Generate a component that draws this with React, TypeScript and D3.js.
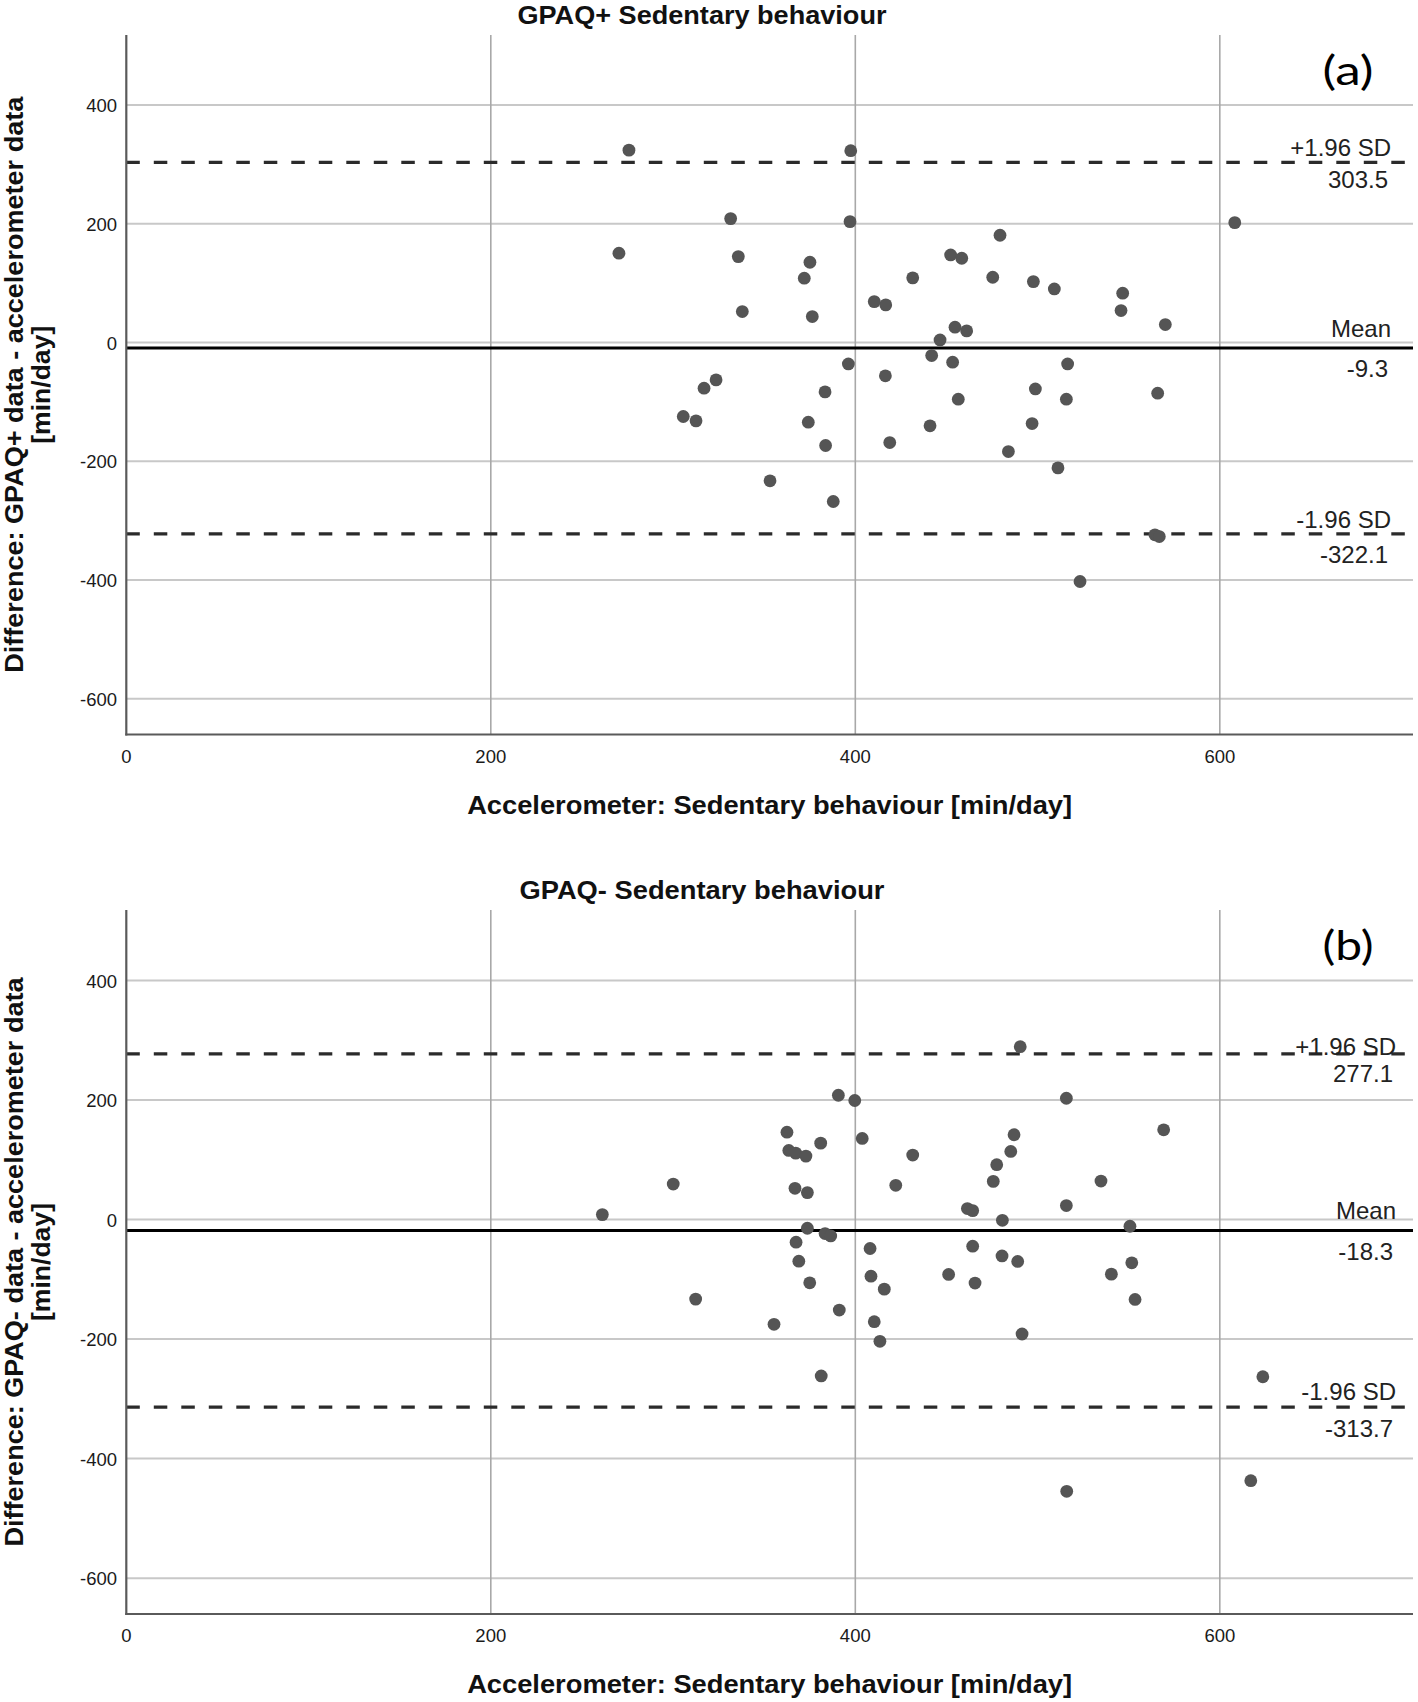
import React from 'react';
import * as d3 from 'd3';

// ---------- data ----------
const xTicks = [0, 200, 400, 600];
const yTicks = [-600, -400, -200, 0, 200, 400];
const xGridTicks = [200, 400, 600];
const xDomain = [0, 706];
const yDomain = [-660, 518];

const panelTitles = ['GPAQ+ Sedentary behaviour', 'GPAQ- Sedentary behaviour'];
const yTitlesLine1 = [
  'Difference: GPAQ+ data - accelerometer data',
  'Difference: GPAQ- data - accelerometer data',
];
const yTitleLine2 = '[min/day]';
const xTitle = 'Accelerometer: Sedentary behaviour [min/day]';
const panelLetters = ['(a)', '(b)'];
const statNames = ['+1.96 SD', 'Mean', '-1.96 SD'];

// Panel (a): accelerometer sedentary behaviour vs GPAQ+ difference
const aAccel = [275.8, 397.5, 331.6, 397.1, 270.3, 335.8, 375.1, 372.0, 338.0, 376.4,
  452.3, 458.4, 431.5, 410.4, 416.7, 454.7, 461.1, 446.5, 441.9, 453.4,
  396.2, 416.5, 323.6, 317.0, 383.4, 456.5, 305.6, 312.6, 374.2, 441.0,
  418.9, 383.7, 353.2, 387.9, 479.4, 475.4, 497.7, 509.2, 546.7, 545.8,
  570.1, 608.2, 516.5, 498.8, 515.8, 565.9, 497.0, 484.0, 511.2, 564.4,
  566.8, 523.3];
const aDiff = [324.1, 323.2, 208.8, 203.7, 150.5, 144.8, 135.3, 108.4, 52.2, 43.8,
  147.6, 142.0, 109.0, 69.0, 63.5, 26.0, 19.7, 4.5, -21.9, -33.0,
  -35.9, -56.0, -62.8, -76.8, -83.0, -95.3, -124.5, -131.8, -134.1, -140.2,
  -168.3, -173.3, -232.8, -267.6, 180.8, 110.0, 102.7, 90.4, 83.2, 53.9,
  30.3, 202.0, -35.9, -78.0, -95.3, -85.2, -136.4, -183.5, -211.0, -323.7,
  -326.6, -402.3];
const aStats = [303.5, -9.3, -322.1];

// Panel (b): accelerometer sedentary behaviour vs GPAQ- difference
const bAccel = [390.7, 399.7, 362.5, 403.8, 381.0, 363.5, 367.3, 372.9, 431.5, 300.1,
  422.2, 366.9, 373.7, 261.2, 373.7, 383.4, 386.5, 367.5, 408.1, 369.0,
  451.2, 408.6, 375.0, 415.9, 312.4, 391.2, 355.4, 410.4, 413.5, 381.3,
  490.5, 515.8, 569.2, 487.1, 485.3, 477.6, 475.7, 534.8, 515.8, 461.5,
  464.4, 480.7, 550.7, 464.4, 480.5, 489.1, 551.7, 540.5, 465.7, 553.5,
  491.5, 617.0, 516.0, 623.6];
const bDiff = [208.0, 199.2, 146.2, 135.7, 127.9, 115.7, 111.2, 106.2, 107.9, 59.4,
  57.3, 52.3, 45.1, 8.3, -14.5, -23.4, -27.4, -37.9, -48.4, -69.6,
  -91.8, -94.7, -105.8, -116.4, -133.1, -151.4, -175.3, -170.9, -203.7, -261.6,
  289.3, 203.0, 150.2, 141.9, 114.0, 91.8, 63.9, 64.4, 23.4, 18.4,
  15.0, -1.2, -11.2, -44.6, -60.8, -70.1, -72.4, -91.3, -106.3, -133.6,
  -191.5, -436.9, -454.7, -263.0];
const bStats = [277.1, -18.3, -313.7];

// ---------- layout ----------
const W = 1418;
const H = 1702;
const LEFT = 126.3;
const RIGHT = 1413;
const FONT = '"Liberation Sans", Arial, sans-serif';

const layouts = [
  { top: 35, bottom: 734.5, titleLen: 369, y1Len: 576, labelX: 1391,
    labelDy: [[-6, 26], [-11, 29], [-6, 29]] },
  { top: 910, bottom: 1614, titleLen: 365, y1Len: 569, labelX: 1396,
    labelDy: [[1, 28], [-12, 29.5], [-7, 30]] },
];

function Panel({ idx, accel, diff, stats }) {
  const L = layouts[idx];
  const x = d3.scaleLinear().domain(xDomain).range([LEFT, RIGHT]);
  const y = d3.scaleLinear().domain(yDomain).range([L.bottom, L.top]);
  const cy = (L.top + L.bottom) / 2;
  const points = d3.zip(accel, diff);

  return (
    <g>
      {/* horizontal gridlines */}
      {yTicks.map((t) => (
        <line key={'hg' + t} x1={x(0)} x2={x(xDomain[1])} y1={y(t)} y2={y(t)}
          stroke="#c8c8c8" strokeWidth={2} />
      ))}
      {/* vertical gridlines */}
      {xGridTicks.map((t) => (
        <line key={'vg' + t} x1={x(t)} x2={x(t)} y1={L.top} y2={L.bottom}
          stroke="#a8a8a8" strokeWidth={1.6} />
      ))}
      {/* limits of agreement */}
      {[stats[0], stats[2]].map((v, i) => (
        <line key={'sd' + i} x1={x(0)} x2={x(xDomain[1])} y1={y(v)} y2={y(v)}
          stroke="#2b2b2b" strokeWidth={3.2} strokeDasharray="13.5 14" />
      ))}
      {/* mean */}
      <line x1={x(0)} x2={x(xDomain[1])} y1={y(stats[1])} y2={y(stats[1])}
        stroke="#000" strokeWidth={3} />
      {/* axes */}
      <line x1={x(0)} x2={x(0)} y1={L.top} y2={L.bottom + 1} stroke="#5a5a5a" strokeWidth={2.2} />
      <line x1={x(0) - 1} x2={x(xDomain[1])} y1={L.bottom} y2={L.bottom} stroke="#5a5a5a" strokeWidth={2.2} />
      {/* points */}
      {points.map(([a, d], i) => (
        <circle key={'p' + i} cx={x(a)} cy={y(d)} r={6.4} fill="#555555" />
      ))}
      {/* y tick labels */}
      {yTicks.map((t) => (
        <text key={'yt' + t} x={117} y={y(t) + 7} textAnchor="end" fontSize={18.5}
          fontFamily={FONT} fill="#1a1a1a">{t}</text>
      ))}
      {/* x tick labels */}
      {xTicks.map((t) => (
        <text key={'xt' + t} x={x(t)} y={L.bottom + 28} textAnchor="middle" fontSize={18.5}
          fontFamily={FONT} fill="#1a1a1a">{t}</text>
      ))}
      {/* stat labels */}
      {stats.map((v, i) => (
        <g key={'sl' + i}>
          <text x={L.labelX} y={y(v) + L.labelDy[i][0]} textAnchor="end" fontSize={24}
            fontFamily={FONT} fill="#222">{statNames[i]}</text>
          <text x={L.labelX - 3} y={y(v) + L.labelDy[i][1]} textAnchor="end" fontSize={24}
            fontFamily={FONT} fill="#222">{v.toFixed(1)}</text>
        </g>
      ))}
      {/* panel title */}
      <text x={702} y={L.top - 11} textAnchor="middle" fontSize={25} fontWeight="bold"
        fontFamily={FONT} fill="#111" textLength={L.titleLen} lengthAdjust="spacingAndGlyphs">
        {panelTitles[idx]}
      </text>
      {/* x title */}
      <text x={(LEFT + RIGHT) / 2} y={L.bottom + 79} textAnchor="middle" fontSize={26} fontWeight="bold"
        fontFamily={FONT} fill="#111" textLength={605} lengthAdjust="spacingAndGlyphs">
        {xTitle}
      </text>
      {/* y title */}
      <text transform={`translate(23,${cy}) rotate(-90)`} textAnchor="middle" fontSize={26}
        fontWeight="bold" fontFamily={FONT} fill="#111" textLength={L.y1Len}
        lengthAdjust="spacingAndGlyphs">
        {yTitlesLine1[idx]}
      </text>
      <text transform={`translate(50,${cy}) rotate(-90)`} textAnchor="middle" fontSize={26}
        fontWeight="bold" fontFamily={FONT} fill="#111" textLength={118}
        lengthAdjust="spacingAndGlyphs">
        {yTitleLine2}
      </text>
      {/* panel letter */}
      <text x={1348} y={L.top + 50} textAnchor="middle" fontSize={41}
        fontFamily='Lato, "Open Sans", sans-serif' fill="#000" textLength={51}
        lengthAdjust="spacingAndGlyphs">
        {panelLetters[idx]}
      </text>
    </g>
  );
}

export default function App() {
  return (
    <svg width={W} height={H} viewBox={`0 0 ${W} ${H}`}
      style={{ position: 'absolute', left: 0, top: 0, display: 'block', background: '#fff' }}>
      <rect x={0} y={0} width={W} height={H} fill="#fff" />
      <Panel idx={0} accel={aAccel} diff={aDiff} stats={aStats} />
      <Panel idx={1} accel={bAccel} diff={bDiff} stats={bStats} />
    </svg>
  );
}
